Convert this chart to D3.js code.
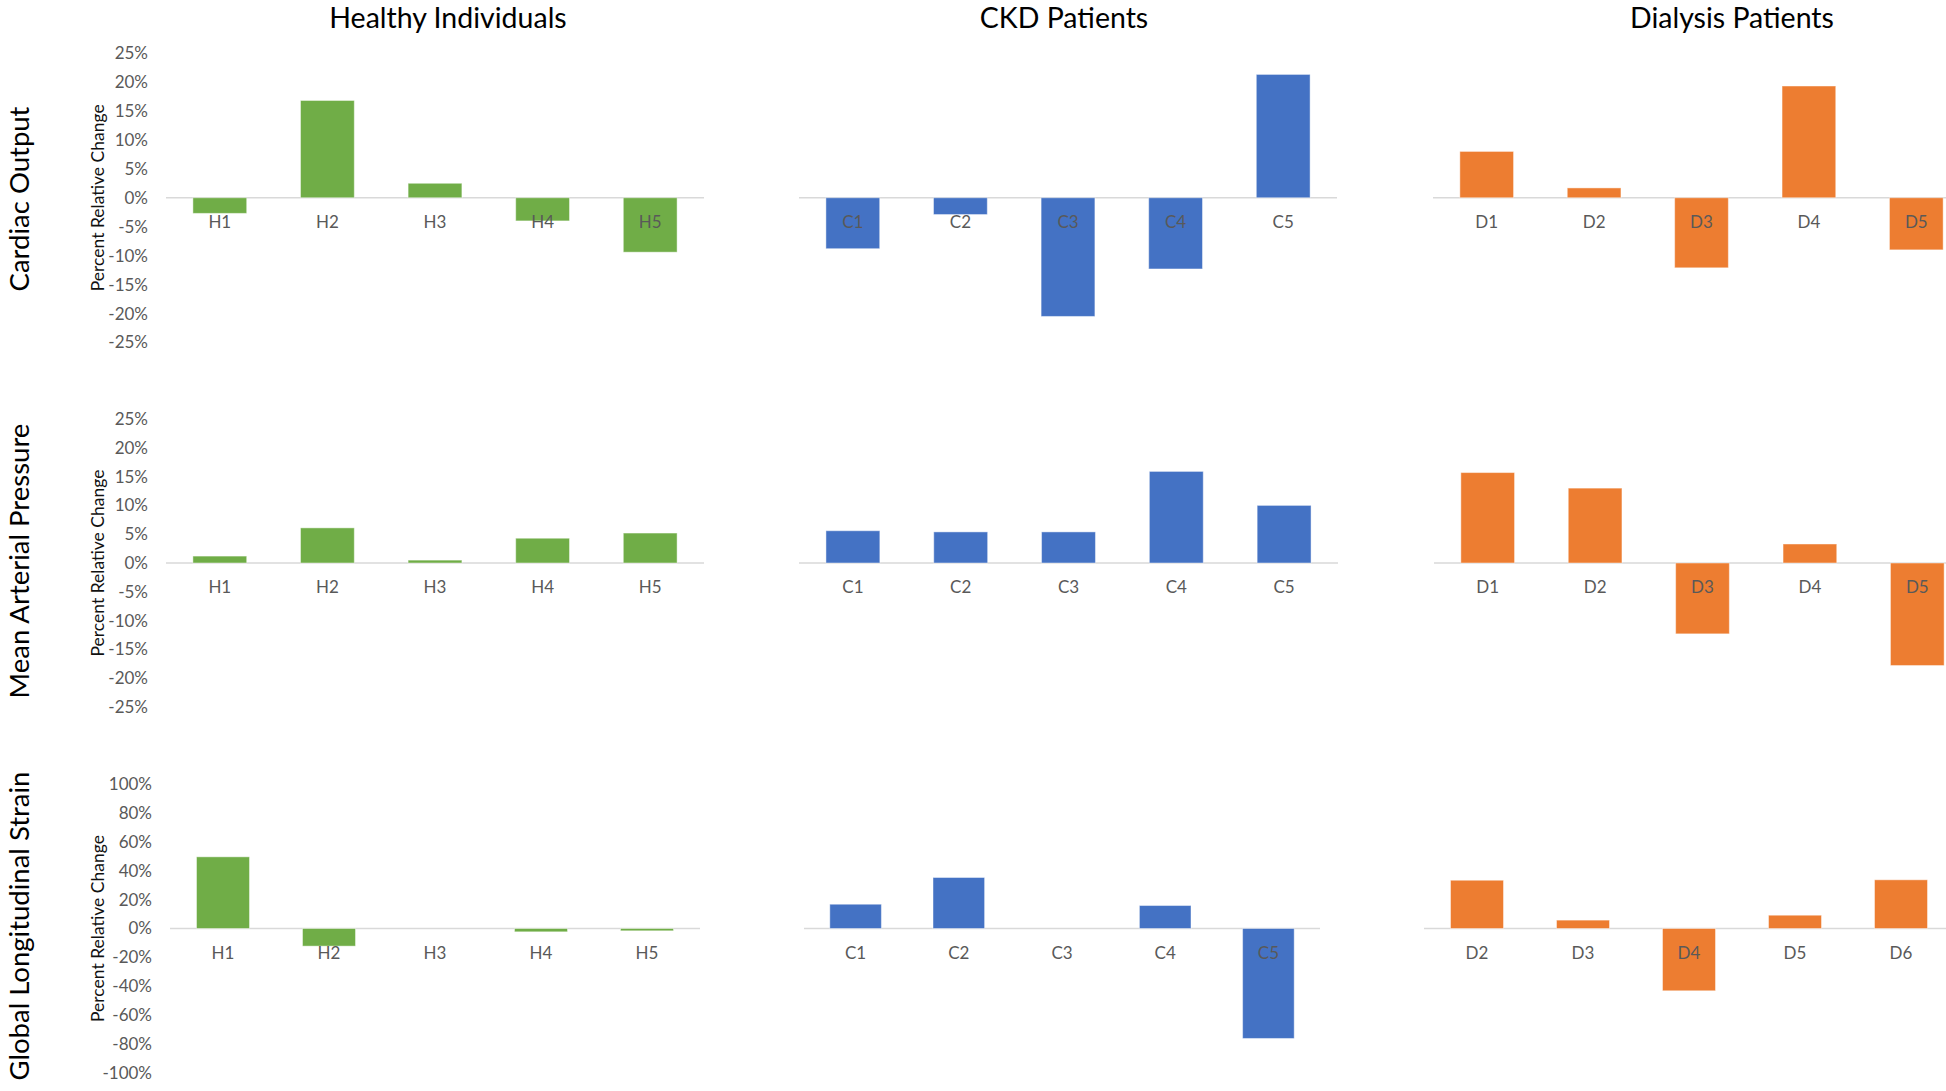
<!DOCTYPE html>
<html>
<head>
<meta charset="utf-8">
<script src="https://cdn.jsdelivr.net/npm/d3@7"></script>
<style>
  html, body { margin: 0; padding: 0; background: #fff; overflow: hidden; }
  svg { display: block; }
</style>
</head>
<body>
<svg id="chart" width="1946" height="1091"></svg>
<script>
// ---------------- DATA ----------------
const columnTitles = ["Healthy Individuals", "CKD Patients", "Dialysis Patients"];
const rowTitles = ["Cardiac Output", "Mean Arterial Pressure", "Global Longitudinal Strain"];
const yAxisTitle = "Percent Relative Change";

const healthyCats = ["H1", "H2", "H3", "H4", "H5"];
const ckdCats = ["C1", "C2", "C3", "C4", "C5"];
const dialysisCats = ["D1", "D2", "D3", "D4", "D5"];
const dialysisCatsGLS = ["D2", "D3", "D4", "D5", "D6"];

// Cardiac Output (% relative change)
const coHealthy = [-2.7, 16.8, 2.5, -4.0, -9.4];
const coCKD = [-8.8, -2.9, -20.5, -12.3, 21.3];
const coDialysis = [8.0, 1.7, -12.1, 19.3, -9.0];

// Mean Arterial Pressure
const mapHealthy = [1.2, 6.1, 0.5, 4.3, 5.2];
const mapCKD = [5.6, 5.4, 5.4, 15.9, 10.0];
const mapDialysis = [15.7, 13.0, -12.3, 3.3, -17.8];

// Global Longitudinal Strain
const glsHealthy = [49.6, -12.2, 0, -2.3, -1.6];
const glsCKD = [16.8, 35.3, 0, 15.9, -76.1];
const glsDialysis = [33.4, 5.8, -43.1, 9.2, 33.7];

// Tick labels
const ticksSmall = [-25, -20, -15, -10, -5, 0, 5, 10, 15, 20, 25];
const ticksGLS = [-100, -80, -60, -40, -20, 0, 20, 40, 60, 80, 100];

const colors = ["#70AD47", "#4472C4", "#ED7D31"];

// ---------------- LAYOUT ----------------
const rowsLayout = [
  { domain: [-25, 25], yRange: [342.5, 53], ticks: ticksSmall, tickX: 152,
    xRanges: [[166, 704], [799, 1337], [1433, 1970]],
    cats: [healthyCats, ckdCats, dialysisCats],
    vals: [coHealthy, coCKD, coDialysis] },
  { domain: [-25, 25], yRange: [707, 419], ticks: ticksSmall, tickX: 152,
    xRanges: [[166, 704], [799, 1338], [1434, 1971]],
    cats: [healthyCats, ckdCats, dialysisCats],
    vals: [mapHealthy, mapCKD, mapDialysis] },
  { domain: [-100, 100], yRange: [1073, 784], ticks: ticksGLS, tickX: 156,
    xRanges: [[170, 700], [804, 1320], [1424, 1954]],
    cats: [healthyCats, ckdCats, dialysisCatsGLS],
    vals: [glsHealthy, glsCKD, glsDialysis] }
];
const titleX = [448, 1064, 1732];
const rowLabelY = [199, 561, 926];

const FONT = "Lato, 'Open Sans', sans-serif";
const svg = d3.select("#chart");

// Column titles
svg.selectAll("text.coltitle").data(columnTitles).join("text")
  .attr("class", "coltitle")
  .attr("x", (d, i) => titleX[i]).attr("y", 28)
  .attr("text-anchor", "middle")
  .attr("font-family", FONT).attr("font-size", 28.5)
  .attr("fill", "#000")
  .text(d => d);

// Row titles (vertical)
svg.selectAll("text.rowtitle").data(rowTitles).join("text")
  .attr("class", "rowtitle")
  .attr("transform", (d, i) => `translate(29,${rowLabelY[i]}) rotate(-90)`)
  .attr("text-anchor", "middle")
  .attr("font-family", FONT).attr("font-size", 27.5)
  .attr("fill", "#000")
  .text(d => d);

rowsLayout.forEach((row, r) => {
  const y = d3.scaleLinear().domain(row.domain).range(row.yRange);
  const y0 = y(0);

  // y axis (only for Healthy column)
  const yAxis = d3.axisLeft(y).tickValues(row.ticks).tickSize(0).tickPadding(4)
    .tickFormat(d => d + "%");
  const gy = svg.append("g").attr("transform", `translate(${row.tickX},0)`).call(yAxis);
  gy.select(".domain").remove();
  gy.selectAll("text").attr("font-family", FONT).attr("font-size", 17).attr("fill", "#595959");

  // y axis title
  svg.append("text")
    .attr("transform", `translate(${104},${y0}) rotate(-90)`)
    .attr("text-anchor", "middle")
    .attr("font-family", FONT).attr("font-size", 17.5)
    .attr("fill", "#111")
    .text(yAxisTitle);

  row.xRanges.forEach((xr, c) => {
    const cats = row.cats[c];
    const vals = row.vals[c];
    const x = d3.scaleBand().domain(cats).range(xr).paddingInner(0.5).paddingOuter(0.25);
    const g = svg.append("g");

    // zero line
    g.append("line")
      .attr("x1", xr[0]).attr("x2", xr[1])
      .attr("y1", y0).attr("y2", y0)
      .attr("stroke", "#D9D9D9").attr("stroke-width", 1.5);

    // bars
    g.selectAll("rect").data(cats.map((k, i) => ({ k, v: vals[i] }))).join("rect")
      .attr("x", d => x(d.k))
      .attr("width", x.bandwidth())
      .attr("y", d => y(Math.max(0, d.v)))
      .attr("height", d => Math.abs(y(d.v) - y0))
      .attr("fill", colors[c])
      .attr("stroke", "#ffffff").attr("stroke-opacity", 0.45).attr("stroke-width", 1);

    // category labels
    const xAxis = d3.axisBottom(x).tickSize(0).tickPadding(18);
    const gx = svg.append("g").attr("transform", `translate(0,${y0})`).call(xAxis);
    gx.select(".domain").remove();
    gx.selectAll("text").attr("font-family", FONT).attr("font-size", 17).attr("fill", "#595959");
  });
});
</script>
</body>
</html>
